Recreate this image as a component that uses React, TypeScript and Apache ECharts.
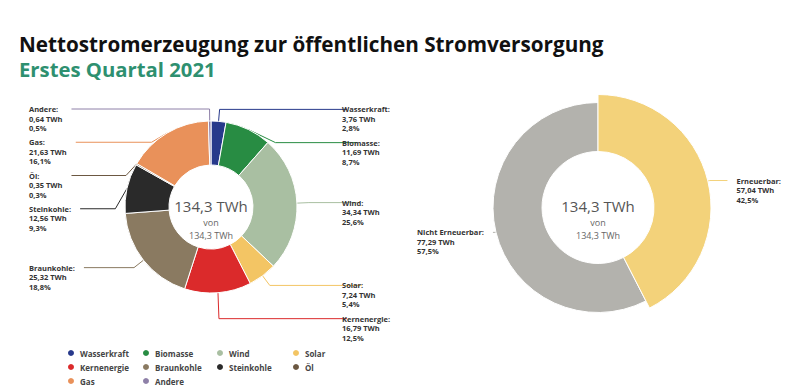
import React, { useEffect, useRef } from 'react';
import * as echarts from 'echarts';

const FONT = "'Open Sans', 'Noto Sans', sans-serif";

const sources = ['Wasserkraft', 'Biomasse', 'Wind', 'Solar', 'Kernenergie', 'Braunkohle', 'Steinkohle', 'Öl', 'Gas', 'Andere'];
const sourceTWh = [3.76, 11.69, 34.34, 7.24, 16.79, 25.32, 12.56, 0.35, 21.63, 0.64];
const sourcePct = ['2,8%', '8,7%', '25,6%', '5,4%', '12,5%', '18,8%', '9,3%', '0,3%', '16,1%', '0,5%'];
const sourceColors = ['#27398b', '#288c43', '#a9bfa2', '#f3c564', '#db2a2b', '#8a7a61', '#2a2a2a', '#6c5842', '#e9915a', '#8e80a8'];

const groups = ['Erneuerbar', 'Nicht Erneuerbar'];
const groupTWh = [57.04, 77.29];
const groupPct = ['42,5%', '57,5%'];
const groupColors = ['#f3d27a', '#b3b2ad'];

const totalLabel = '134,3 TWh';
const legendColumns = [
  ['Wasserkraft', 'Kernenergie', 'Gas'],
  ['Biomasse', 'Braunkohle', 'Andere'],
  ['Wind', 'Steinkohle'],
  ['Solar', 'Öl'],
];

const fmt = (v: number) => v.toFixed(2).replace('.', ',');

const richLabel = {
  n: { fontSize: 7.5, fontWeight: 'bold', color: '#333', lineHeight: 9.5, align: 'left', fontFamily: FONT },
  s: { fontSize: 1, lineHeight: 6, align: 'left' },
};

const edgeLayout = (p: any) => {
  const pts = p.labelLinePoints;
  if (!pts || !pts[2]) return {};
  const goesRight = pts[2][0] > pts[1][0];
  const newPts = pts.map((q: number[]) => [q[0], q[1]]);
  newPts[2][0] += goesRight ? -4 : 4;
  return { y: pts[2][1] - 4.75, verticalAlign: 'top', labelLinePoints: newPts };
};

export default function App() {
  const ref = useRef<HTMLDivElement>(null);
  useEffect(() => {
    if (!ref.current) return;
    const chart = echarts.init(ref.current, undefined, { renderer: 'svg' });

    const total = sourceTWh.reduce((a, b) => a + b, 0);
    let cum = 0;
    const sourceData = sources.map((name, i) => {
      const mid = cum + sourceTWh[i] / 2;
      cum += sourceTWh[i];
      const right = mid < total / 2;
      return {
        name,
        value: sourceTWh[i],
        itemStyle: { color: sourceColors[i] },
        label: { width: right ? 62 : 47 },
      };
    });

    const hidden = { color: 'rgba(0,0,0,0)', borderWidth: 0 };
    // base ring (carries both labels); Erneuerbar is drawn by the wider ring on top
    const baseData = groups.map((name, i) =>
      i === 1
        ? { name, value: groupTWh[i], itemStyle: { color: groupColors[i] }, labelLine: { length: 1 } }
        : {
            name,
            value: groupTWh[i],
            itemStyle: hidden,
            labelLine: { length: 10, lineStyle: { color: groupColors[i] } },
          }
    );
    const highlightData = groups.map((name, i) =>
      i === 0
        ? { name, value: groupTWh[i], itemStyle: { color: groupColors[i] } }
        : { name, value: groupTWh[i], itemStyle: hidden }
    );

    const centerTexts = (cx: number) => [
      { type: 'text', x: cx, y: 206, silent: true, style: { text: totalLabel, fontSize: 15, fontFamily: FONT, fill: '#555', align: 'center', verticalAlign: 'middle' } },
      { type: 'text', x: cx, y: 222, silent: true, style: { text: 'von', fontSize: 9, fontFamily: FONT, fill: '#666', align: 'center', verticalAlign: 'middle' } },
      { type: 'text', x: cx, y: 235, silent: true, style: { text: totalLabel, fontSize: 9, fontFamily: FONT, fill: '#666', align: 'center', verticalAlign: 'middle' } },
    ];

    const legendLefts = [66, 141, 215, 291];

    chart.setOption({
      animation: false,
      textStyle: { fontFamily: FONT },
      title: [
        { text: 'Nettostromerzeugung zur öffentlichen Stromversorgung', left: 19, top: 33, padding: 0, textStyle: { fontSize: 20.7, fontWeight: 'bold', color: '#111', fontFamily: FONT } },
        { text: 'Erstes Quartal 2021', left: 19, top: 59, padding: 0, textStyle: { fontSize: 20.3, fontWeight: 'bold', color: '#2e9070', fontFamily: FONT } },
      ],
      legend: legendColumns.map((col, c) => ({
        data: col,
        left: legendLefts[c],
        top: 348,
        padding: 0,
        orient: 'vertical',
        icon: 'circle',
        itemWidth: 8,
        itemHeight: 8,
        itemGap: 4,
        selectedMode: false,
        textStyle: { fontSize: 8, fontWeight: 'bold', color: '#444', fontFamily: FONT },
      })),
      graphic: [...centerTexts(211), ...centerTexts(598)],
      series: [
        {
          type: 'pie',
          silent: true,
          left: 29,
          right: 396,
          top: 0,
          bottom: 0,
          center: [211 - 29, 207],
          radius: [42, 86],
          startAngle: 90,
          clockwise: true,
          itemStyle: { borderColor: '#fff', borderWidth: 1 },
          label: {
            show: true,
            position: 'outer',
            alignTo: 'edge',
            edgeDistance: 0,
            distanceToLabelLine: 5,
            overflow: 'none',
            formatter: (p: any) => `{n|${p.name}:}\n{n|${fmt(sourceTWh[p.dataIndex])} TWh}\n{n|${sourcePct[p.dataIndex]}}\n{s| }`,
            rich: richLabel,
          },
          labelLine: { show: true, length: 12, length2: 10, lineStyle: { width: 1 } },
          labelLayout: edgeLayout,
          data: sourceData,
        },
        {
          type: 'pie',
          silent: true,
          left: 417,
          width: 364,
          top: 0,
          bottom: 0,
          center: [598 - 417, 207.5],
          radius: [56, 105],
          startAngle: 90,
          itemStyle: { borderColor: '#fff', borderWidth: 1 },
          label: {
            show: true,
            position: 'outer',
            alignTo: 'edge',
            edgeDistance: 0,
            distanceToLabelLine: 5,
            overflow: 'none',
            formatter: (p: any) => `{n|${p.name}:}\n{n|${fmt(groupTWh[p.dataIndex])} TWh}\n{n|${groupPct[p.dataIndex]}}`,
            rich: richLabel,
          },
          labelLine: { show: true, length2: 4, lineStyle: { width: 1 } },
          labelLayout: edgeLayout,
          data: baseData,
        },
        {
          type: 'pie',
          silent: true,
          left: 0,
          top: 0,
          right: 0,
          bottom: 0,
          center: [598, 207.5],
          radius: [56, 113],
          startAngle: 90,
          itemStyle: { borderColor: '#fff', borderWidth: 1 },
          label: { show: false },
          labelLine: { show: false },
          data: highlightData,
        },
      ],
    });
    return () => chart.dispose();
  }, []);
  return <div ref={ref} style={{ width: 800, height: 390, position: 'absolute', left: 0, top: 0 }} />;
}
